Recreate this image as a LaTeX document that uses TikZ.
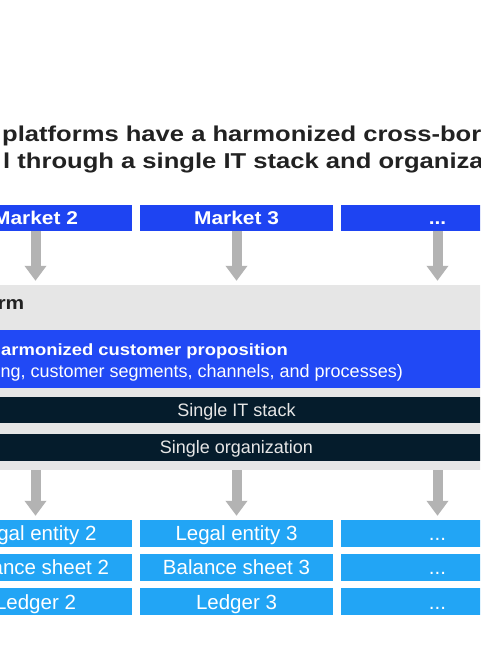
\documentclass[tikz,border=0pt]{standalone}
\usepackage{fontspec}
\setmainfont{Liberation Sans}
\newfontfamily\titlefont{Liberation Sans}[FakeStretch=1.19]
\newfontfamily\bfam{Liberation Sans}[FakeStretch=1.13]
\usetikzlibrary{arrows.meta}
\definecolor{mblue}{HTML}{1E44F2}
\definecolor{pblue}{HTML}{2149F5}
\definecolor{cyanbox}{HTML}{22A5F5}
\definecolor{navy}{HTML}{051C2C}
\definecolor{band}{HTML}{E6E6E6}
\definecolor{arrgray}{HTML}{B3B3B3}
\definecolor{ink}{HTML}{222222}
\begin{document}
\begin{tikzpicture}[x=1pt,y=-1pt,
  mkt/.style={fill=mblue, minimum width=193pt, minimum height=26pt, inner sep=0pt,
    text=white, font=\bfam\bfseries\fontsize{18.5}{20}\selectfont, text height=13.2pt, text depth=0pt},
  ent/.style={fill=cyanbox, minimum width=193pt, minimum height=27pt, inner sep=0pt,
    text=white, font=\fontsize{20.5}{22}\selectfont, text height=14.7pt, text depth=0pt},
  bar/.style={fill=navy, minimum width=600pt, inner sep=0pt,
    text=band, font=\fontsize{18}{20}\selectfont, text height=12.9pt, text depth=0pt},
  arr/.style={arrgray, line width=10pt, -{Triangle[width=21pt,length=15pt]}, shorten >=4pt},
  ttl/.style={anchor=base west, inner sep=0pt, text=ink, font=\titlefont\bfseries\fontsize{21.5}{24}\selectfont}
]
\useasboundingbox (0,0) rectangle (480,645);
\fill[white] (0,0) rectangle (480,645);
\begin{scope}
\clip (0,0) rectangle (480,645);
% title
\node[ttl] (t1) at (2,141.7) {platforms have a harmonized cross-bor};
\node[ttl] (t2) at (3,168.3) {l through a single IT stack and organiza};
% markets
\node[mkt] (m1) at (35.5,218) {Market 2};
\node[mkt] (m2) at (236.5,218) {Market 3};
\node[mkt] (m3) at (437.5,218) {...};
% platform band
\node[fill=band, minimum width=600pt, minimum height=185pt, inner sep=0pt] (plat) at (236.5,377.5) {};
\node[anchor=base east, inner sep=0pt, text=ink, font=\bfam\bfseries\fontsize{18.5}{20}\selectfont] (platlbl) at (24.5,309.3) {rm};
\node[fill=pblue, minimum width=600pt, minimum height=58pt, inner sep=0pt] (prop) at (236.5,359) {};
\node[anchor=base east, inner sep=0pt, text=white, font=\bfam\bfseries\fontsize{16.3}{18}\selectfont] (prop1) at (288,355) {Harmonized customer proposition};
\node[anchor=base east, inner sep=0pt, text=white, font=\fontsize{18}{20}\selectfont] (prop2) at (403,377) {ng, customer segments, channels, and processes)};
\node[bar, minimum height=26pt] (it) at (236.5,410) {Single IT stack};
\node[bar, minimum height=27pt] (org) at (236.5,447.5) {Single organization};
% entities
\node[ent] (l1) at (35.5,533.5) {Legal entity 2};
\node[ent] (l2) at (236.5,533.5) {Legal entity 3};
\node[ent] (l3) at (437.5,533.5) {...};
\node[ent] (b1) at (35.5,567.5) {Balance sheet 2};
\node[ent] (b2) at (236.5,567.5) {Balance sheet 3};
\node[ent] (b3) at (437.5,567.5) {...};
\node[ent] (g1) at (35.5,601.8) {Ledger 2};
\node[ent] (g2) at (236.5,601.8) {Ledger 3};
\node[ent] (g3) at (437.5,601.8) {...};
% arrows
\foreach \m in {m1,m2,m3} \draw[arr] (\m.south) -- (\m.south |- plat.north);
\foreach \l in {l1,l2,l3} \draw[arr] (\l.north |- plat.south) -- (\l.north);
\end{scope}
\end{tikzpicture}
\end{document}
